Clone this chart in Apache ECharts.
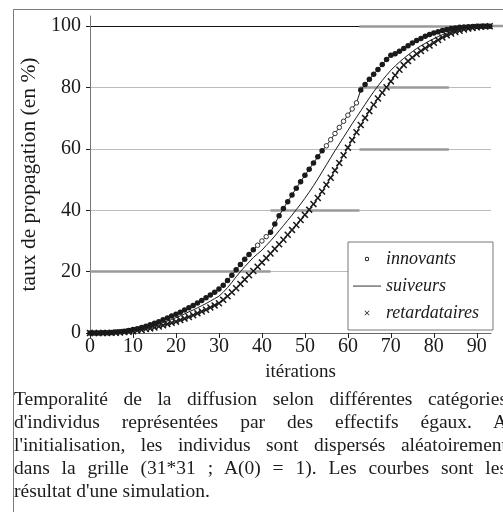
<!DOCTYPE html>
<html>
<head>
<meta charset="utf-8">
<script src="https://cdn.jsdelivr.net/npm/echarts@6/dist/echarts.min.js"></script>
<style>
  html, body { margin: 0; padding: 0; background: #fff; }
  #wrap { position: relative; width: 503px; height: 512px; overflow: hidden; }
  #chart { position: absolute; left: 0; top: 0; width: 503px; height: 512px; }
  #caption {
    position: absolute; left: 14px; top: 387px; width: 493px;
    font-family: 'Liberation Serif', serif; font-size: 19.5px; line-height: 23px; color: #1c1c1c;
  }
  #caption div { text-align: justify; text-align-last: justify; }
  #caption div.last { text-align-last: left; }
</style>
</head>
<body>
<div id="wrap">
  <div id="chart"></div>
  <div id="caption">
    <div>Temporalité de la diffusion selon différentes catégories</div>
    <div>d'individus représentées par des effectifs égaux. A</div>
    <div>l'initialisation, les individus sont dispersés aléatoirement</div>
    <div>dans la grille (31*31 ; A(0) = 1). Les courbes sont les</div>
    <div class="last">résultat d'une simulation.</div>
  </div>
</div>
<script>
// taux de propagation (%) à chaque itération
const innovants = [
  0, 0, 0, 0.1, 0.1, 0.2, 0.3, 0.4, 0.6, 0.8,
  1.1, 1.4, 1.8, 2.2, 2.7, 3.2, 3.7, 4.3, 4.9, 5.5,
  6.1, 6.8, 7.5, 8.2, 9.0, 9.8, 10.6, 11.5, 12.4, 13.3,
  14.3, 15.6, 17.1, 18.8, 20.6, 22.3, 24.0, 25.6, 27.1, 28.6,
  30.0, 31.4, 32.8, 35.5, 38.2, 40.6, 42.8, 45.0, 47.2, 49.3,
  51.4, 53.4, 55.4, 57.4, 59.4, 61.0, 63.0, 65.0, 67.0, 69.0,
  71.0, 73.0, 75.0, 79.2, 81.0, 82.7, 84.3, 85.9, 87.5, 89.1,
  90.5, 91.0, 91.8, 92.7, 93.6, 94.5, 95.3, 96.0, 96.7, 97.3,
  97.8, 98.2, 98.6, 98.9, 99.2, 99.4, 99.6, 99.7, 99.8, 99.9,
  100, 100, 100, 100
]
const suiveurs = [
  0, 0, 0, 0, 0.1, 0.1, 0.2, 0.3, 0.4, 0.6,
  0.8, 1.1, 1.4, 1.8, 2.1, 2.5, 2.9, 3.4, 3.9, 4.4,
  5.0, 5.6, 6.2, 6.9, 7.5, 8.2, 8.9, 9.6, 10.4, 11.2,
  12.0, 13.3, 14.8, 16.5, 18.3, 20.0, 21.6, 23.1, 24.6, 25.8,
  27.0, 28.5, 30.0, 31.6, 33.3, 35.0, 36.7, 38.4, 40.2, 42.0,
  43.9, 45.9, 48.0, 50.2, 52.5, 54.8, 57.1, 59.4, 61.6, 63.8,
  66.0, 68.2, 70.3, 72.4, 74.5, 76.6, 78.6, 80.5, 82.3, 84.0,
  85.6, 87.0, 88.3, 89.5, 90.6, 91.7, 92.7, 93.6, 94.4, 95.2,
  95.9, 96.6, 97.2, 97.7, 98.2, 98.6, 98.9, 99.2, 99.4, 99.6,
  99.8, 99.9, 100, 100
]
const retardataires = [
  0, 0, 0, 0, 0, 0.1, 0.1, 0.2, 0.3, 0.4,
  0.6, 0.8, 1.0, 1.3, 1.5, 1.8, 2.1, 2.5, 2.9, 3.3,
  3.7, 4.2, 4.7, 5.2, 5.8, 6.4, 7.0, 7.6, 8.3, 9.0,
  9.7, 10.8, 12.0, 13.3, 14.6, 16.0, 17.4, 18.8, 20.2, 21.6,
  23.0, 24.4, 25.9, 27.4, 28.9, 30.4, 32.0, 33.6, 35.2, 36.8,
  38.5, 40.2, 42.0, 44.0, 46.1, 48.3, 50.6, 53.0, 55.4, 57.9,
  60.4, 62.9, 65.4, 67.8, 70.1, 72.3, 74.4, 76.4, 78.3, 80.1,
  82.0, 84.0, 85.8, 87.3, 88.6, 89.8, 90.9, 91.9, 92.8, 93.7,
  94.6, 95.5, 96.3, 97.0, 97.6, 98.1, 98.5, 98.9, 99.2, 99.4,
  99.6, 99.8, 99.9, 100
]
// itérations où les points des innovants sont dessinés creux
const innovantsOpen = [39, 40, 41, 55, 56, 57, 58, 59, 60, 61, 62]

const xTicks = [0, 10, 20, 30, 40, 50, 60, 70, 80, 90]
const yTicks = [0, 20, 40, 60, 80, 100]

const FONT = 'Liberation Serif'
const INK = '#1a1a1a'
const CROSS = 'path://M0,1.5L1.5,0L5,3.5L8.5,0L10,1.5L6.5,5L10,8.5L8.5,10L5,6.5L1.5,10L0,8.5L3.5,5Z'

// icônes de légende (cadre 28x12 fixé par les deux premiers M)
const ICON_RING = 'path://M0,0M28,12M16.2,6A2.2,2.2 0 1 1 11.8,6A2.2,2.2 0 1 1 16.2,6ZM15.3,6A1.3,1.3 0 1 0 12.7,6A1.3,1.3 0 1 0 15.3,6Z'
const ICON_LINE = 'path://M0,0M28,12M0,5.6L28,5.6L28,6.5L0,6.5Z'
const ICON_CROSS = 'path://M0,0M28,12M11.5,4L12,3.5L14,5.5L16,3.5L16.5,4L14.5,6L16.5,8L16,8.5L14,6.5L12,8.5L11.5,8L13.5,6Z'

// traits gris plus épais qui traversent la figure d'origine
const greyBars = [
  [[0, 20], [42, 20]],
  [[42, 40], [62.7, 40]],
  [[62.7, 60], [83.5, 60]],
  [[62.7, 80], [83.5, 80]],
  [[62.7, 100], [93.3, 100]],
]

function toPoints (values) {
  return values.map((v, i) => [i, v])
}

const chart = echarts.init(document.getElementById('chart'))

const innovData = toPoints(innovants).map((p) => {
  if (innovantsOpen.indexOf(p[0]) >= 0) {
    return { value: p, symbolSize: 4.5, itemStyle: { color: '#fff', borderColor: '#333', borderWidth: 1 } }
  }
  return p
})

chart.setOption({
  animation: false,
  backgroundColor: '#fff',
  textStyle: { fontFamily: FONT },
  graphic: [{
    type: 'rect',
    left: 11,
    top: 7,
    shape: { width: 600, height: 600 },
    style: { fill: 'none', stroke: '#7a7a7a', lineWidth: 1 },
    silent: true,
    z: -1,
  }, {
    // prolongement du trait gris à 100 au-delà du cadre
    type: 'line',
    shape: { x1: 491, y1: 26, x2: 503, y2: 26 },
    style: { stroke: '#9a9a9a', lineWidth: 2.5 },
    silent: true,
  }],
  grid: { left: 90, right: 12, top: 16, bottom: 179 },
  legend: {
    orient: 'vertical',
    left: 348,
    top: 242,
    padding: [8, 14, 8, 5],
    itemGap: 9,
    itemWidth: 28,
    itemHeight: 12,
    borderColor: '#777',
    borderWidth: 1,
    backgroundColor: '#fff',
    itemStyle: { borderWidth: 0 },
    textStyle: { fontFamily: FONT, fontStyle: 'italic', fontSize: 18, color: INK, lineHeight: 17 },
    data: [
      { name: 'innovants', icon: ICON_RING },
      { name: 'suiveurs', icon: ICON_LINE },
      { name: 'retardataires', icon: ICON_CROSS },
    ],
  },
  xAxis: {
    type: 'value',
    min: 0,
    max: 93.3,
    interval: 10,
    name: 'itérations',
    nameLocation: 'middle',
    nameGap: 30,
    nameTextStyle: { fontFamily: FONT, fontSize: 19, color: INK, padding: [0, 0, 0, 20] },
    axisLine: { show: true, lineStyle: { color: '#666', width: 1 } },
    axisTick: { show: true, length: 5, lineStyle: { color: '#222' }, customValues: xTicks },
    axisLabel: { fontFamily: FONT, fontSize: 20, color: INK, margin: 4, customValues: xTicks },
    splitLine: {
      show: true,
      lineStyle: {
        color: ['transparent', 'transparent', 'transparent', 'transparent', 'transparent', 'transparent',
          'transparent', 'transparent', 'transparent', 'transparent', '#888'],
        width: 1,
      },
    },
  },
  yAxis: {
    type: 'value',
    min: 0,
    max: 103.3,
    interval: 20,
    name: 'taux de propagation (en %)',
    nameLocation: 'middle',
    nameRotate: 90,
    nameGap: 47,
    nameTextStyle: { fontFamily: FONT, fontSize: 21.5, color: INK },
    axisLine: { show: true, lineStyle: { color: '#777', width: 1 } },
    axisTick: { show: true, length: 4, lineStyle: { color: '#222' }, customValues: yTicks },
    axisLabel: { fontFamily: FONT, fontSize: 20, color: INK, margin: 9, customValues: yTicks },
    splitLine: {
      show: true,
      lineStyle: { color: ['#777', '#bbb', '#bbb', '#bbb', '#bbb', '#111', '#888'], width: 1 },
    },
  },
  series: [
    {
      name: 'innovants',
      type: 'line',
      data: innovData,
      symbol: 'circle',
      symbolSize: 5.5,
      itemStyle: { color: INK },
      lineStyle: { color: INK, width: 1 },
      z: 4,
    },
    {
      name: 'suiveurs',
      type: 'line',
      data: toPoints(suiveurs),
      symbol: 'none',
      showSymbol: false,
      lineStyle: { color: INK, width: 1 },
      itemStyle: { color: INK },
      z: 3,
      markLine: {
        silent: true,
        symbol: 'none',
        label: { show: false },
        lineStyle: { color: '#9a9a9a', width: 2.5, type: 'solid' },
        data: greyBars.map(([a, b]) => [{ coord: a }, { coord: b }]),
        z: 1,
      },
    },
    {
      name: 'retardataires',
      type: 'line',
      data: toPoints(retardataires),
      symbol: CROSS,
      symbolSize: 7,
      itemStyle: { color: INK },
      lineStyle: { color: INK, width: 1 },
      z: 4,
    },
  ],
})
</script>
</body>
</html>
